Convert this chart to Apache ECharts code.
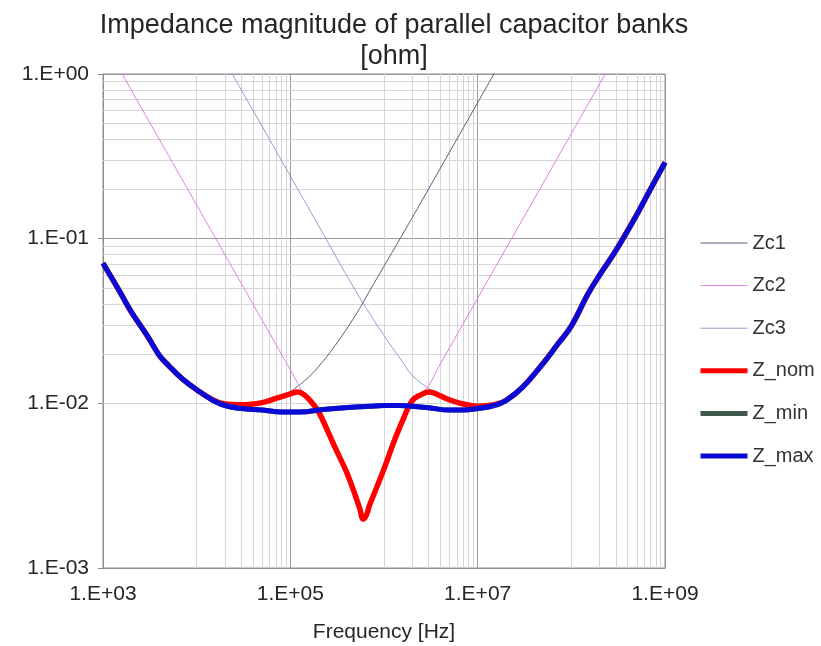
<!DOCTYPE html>
<html>
<head>
<meta charset="utf-8">
<script src="https://cdn.jsdelivr.net/npm/echarts@6/dist/echarts.min.js"></script>
<style>html,body{margin:0;padding:0;background:#fff}#c{width:821px;height:646px}</style>
</head>
<body>
<div id="c"></div>
<script>
// ---- data ----
const seriesNames = ['Zc1', 'Zc2', 'Zc3', 'Z_nom', 'Z_min', 'Z_max'];

const fZc1 = [1e3,1.5e3,2e3,3e3,5e3,7e3,1e4,1.5e4,2e4,3e4,5e4,7e4,1e5,1.2e5,1.5e5,2e5,3e5,5e5,7e5,1e6,2e6,5e6,1e7,2e7];
const zZc1 = [0.071,0.048,0.036,0.0255,0.017,0.0141,0.0121,0.0105,0.0099,0.0098,0.0102,0.0108,0.0118,0.0127,0.0141,0.0167,0.0224,0.0345,0.048,0.068,0.134,0.335,0.67,1.34];

const fZc2 = [1e3,1.5e3,2e3,5e3,1e4,2e4,5e4,8e4,1e5,1.2e5,1.4e5,1.7e5,2e5,2.5e5,3e5,4e5,5e5,5.5e5,6e5,6.5e5,7e5,8e5,1e6,1.3e6,1.6e6,2e6,2.5e6,3e6,4e6,5e6,7e6,1e7,2e7,5e7,1e8,2e8,3e8];
const zZc2 = [1.6,1.07,0.8,0.32,0.16,0.08,0.032,0.02,0.016,0.0132,0.0113,0.0101,0.0089,0.0068,0.0054,0.0038,0.0027,0.0023,0.00198,0.0021,0.0024,0.0029,0.0040,0.0060,0.0080,0.0102,0.0113,0.0128,0.0174,0.0217,0.0304,0.0435,0.087,0.217,0.435,0.87,1.3];

const fZc3 = [1e4,2e4,5e4,1e5,2e5,5e5,1e6,1.5e6,2e6,3e6,4e6,5e6,7e6,1e7,1.5e7,2e7,3e7,5e7,7e7,1e8,1.5e8,2e8,3e8,5e8,7e8,1e9];
const zZc3 = [2.4,1.2,0.48,0.24,0.12,0.048,0.0258,0.0186,0.0148,0.0123,0.0110,0.0103,0.0097,0.0095,0.0098,0.0104,0.0125,0.0175,0.0225,0.0295,0.046,0.06,0.085,0.14,0.2,0.29];

const fNom = [1e3,1.5e3,2e3,3e3,4e3,5e3,7e3,1e4,1.5e4,2e4,3e4,5e4,7e4,1e5,1.2e5,1.4e5,1.7e5,2e5,2.5e5,3e5,4e5,5e5,5.5e5,6e5,6.5e5,7e5,8e5,1e6,1.3e6,1.6e6,2e6,2.5e6,3e6,3.5e6,4e6,5e6,7e6,1e7,1.5e7,2e7,3e7,5e7,7e7,1e8,1.5e8,2e8,3e8,5e8,7e8,1e9];
const zNom = [0.071,0.048,0.036,0.0255,0.0195,0.017,0.0141,0.0121,0.0105,0.0099,0.0098,0.0101,0.0107,0.0114,0.0117,0.0113,0.0101,0.0089,0.0068,0.0054,0.0038,0.0027,0.0023,0.00198,0.0021,0.0024,0.0029,0.0040,0.0060,0.0080,0.0104,0.0113,0.0117,0.0115,0.0111,0.0105,0.0099,0.0096,0.0098,0.0104,0.0125,0.0175,0.0225,0.0295,0.046,0.06,0.085,0.14,0.2,0.29];

const fMinMax = [1e3,1.5e3,2e3,3e3,4e3,5e3,7e3,1e4,1.5e4,2e4,3e4,5e4,7e4,1e5,1.5e5,2e5,3e5,5e5,7e5,1e6,1.5e6,2e6,3e6,5e6,7e6,1e7,1.5e7,2e7,3e7,5e7,7e7,1e8,1.5e8,2e8,3e8,5e8,7e8,1e9];
const zMin = [0.071,0.048,0.036,0.0255,0.0195,0.017,0.0141,0.0121,0.0104,0.0097,0.0093,0.0091,0.0089,0.00886,0.0089,0.0091,0.0093,0.0095,0.0096,0.0097,0.0097,0.0096,0.0094,0.0091,0.0091,0.0093,0.0097,0.0104,0.0125,0.0175,0.0225,0.0295,0.046,0.06,0.085,0.14,0.2,0.29];
const zMax = [0.071,0.048,0.036,0.0255,0.0195,0.017,0.0141,0.0121,0.0104,0.0097,0.0093,0.0091,0.0089,0.00886,0.0089,0.0091,0.0093,0.0095,0.0096,0.0097,0.0097,0.0096,0.0094,0.0091,0.0091,0.0093,0.0097,0.0104,0.0125,0.0175,0.0225,0.0295,0.046,0.06,0.085,0.14,0.2,0.29];

// minor grid positions (axis values)
const xMinorTicks = [2e4,3e4,4e4,5e4,6e4,7e4,8e4,9e4, 2e6,3e6,4e6,5e6,6e6,7e6,8e6,9e6, 2e8,3e8,4e8,5e8,6e8,7e8,8e8,9e8];
const yMinorTicks = [0.002,0.003,0.004,0.005,0.006,0.007,0.008,0.009, 0.02,0.03,0.04,0.05,0.06,0.07,0.08,0.09, 0.2,0.3,0.4,0.5,0.6,0.7,0.8,0.9];

// ---- chart ----
const FONT = '"Liberation Sans", Arial, sans-serif';
const pair = (fs, zs) => fs.map((f, i) => [f, zs[i]]);
const fmtE = v => {
  const e = Math.round(Math.log10(v));
  return '1.E' + (e < 0 ? '-' : '+') + String(Math.abs(e)).padStart(2, '0');
};

const styles = {
  Zc1:   {color: '#5c5c82', width: 1},
  Zc2:   {color: '#e07ee0', width: 1},
  Zc3:   {color: '#9a9ad0', width: 1},
  Z_nom: {color: '#ff0000', width: 5.5},
  Z_min: {color: '#3f5a4c', width: 5},
  Z_max: {color: '#0a0ad8', width: 5}
};
const dataMap = {
  Zc1: pair(fZc1, zZc1),
  Zc2: pair(fZc2, zZc2),
  Zc3: pair(fZc3, zZc3),
  Z_nom: pair(fNom, zNom),
  Z_min: pair(fMinMax, zMin),
  Z_max: pair(fMinMax, zMax)
};

const series = [{
  type: 'line', name: '_grid', data: [], silent: true, z: 1,
  markLine: {
    silent: true, z: 1, symbol: ['none', 'none'], label: {show: false},
    emphasis: {disabled: true}, animation: false,
    lineStyle: {color: '#d6d6d6', width: 1, type: 'solid'},
    data: xMinorTicks.map(v => ({xAxis: v})).concat(yMinorTicks.map(v => ({yAxis: v})))
  }
}];
seriesNames.forEach(n => {
  series.push({
    type: 'line', name: n, data: dataMap[n], showSymbol: false, symbol: 'none',
    smooth: 0.4, z: 2, clip: true,
    lineStyle: {color: styles[n].color, width: styles[n].width},
    itemStyle: {color: styles[n].color},
    emphasis: {disabled: true}
  });
});

const chart = echarts.init(document.getElementById('c'), null, {renderer: 'canvas'});
chart.setOption({
  animation: false,
  backgroundColor: '#ffffff',
  textStyle: {fontFamily: FONT},
  title: {
    text: 'Impedance magnitude of parallel capacitor banks\n[ohm]',
    left: 394, textAlign: 'center', top: 10, padding: 0,
    textStyle: {fontFamily: FONT, fontSize: 27, fontWeight: 'normal', color: '#262626', lineHeight: 31}
  },
  legend: {
    orient: 'vertical', left: 693, top: 228, itemWidth: 47, itemHeight: 14, itemGap: 22.6,
    itemStyle: {opacity: 0},
    data: seriesNames.map(n => ({name: n, lineStyle: {width: styles[n].width > 2 ? 5 : 1, color: styles[n].color}})),
    textStyle: {fontFamily: FONT, fontSize: 20, color: '#333'}
  },
  grid: {left: 103, right: 156, top: 74, bottom: 78, show: true, borderColor: '#8c8c8c', borderWidth: 1,
         containLabel: false, outerBoundsMode: 'none'},
  xAxis: {
    type: 'log', logBase: 10, min: 1e3, max: 1e9,
    name: 'Frequency [Hz]', nameLocation: 'middle', nameGap: 54,
    nameTextStyle: {fontFamily: FONT, fontSize: 21, color: '#262626'},
    axisLine: {show: true, lineStyle: {color: '#8c8c8c'}},
    axisTick: {show: false},
    minorTick: {show: false},
    axisLabel: {
      fontFamily: FONT, fontSize: 21, color: '#262626', margin: 16,
      formatter: v => { const e = Math.round(Math.log10(v)); return (e % 2 !== 0) ? fmtE(v) : ''; }
    },
    splitLine: {show: true, lineStyle: {color: ['#d6d6d6', '#9a9a9a'], width: 1}}
  },
  yAxis: {
    type: 'log', logBase: 10, min: 1e-3, max: 1,
    axisLine: {show: true, lineStyle: {color: '#8c8c8c'}},
    axisTick: {show: true, length: 5, inside: false, lineStyle: {color: '#8c8c8c'}},
    axisLabel: {fontFamily: FONT, fontSize: 21, color: '#262626', margin: 14, formatter: fmtE},
    splitLine: {show: true, lineStyle: {color: '#9a9a9a', width: 1}}
  },
  series: series
});
</script>
</body>
</html>
